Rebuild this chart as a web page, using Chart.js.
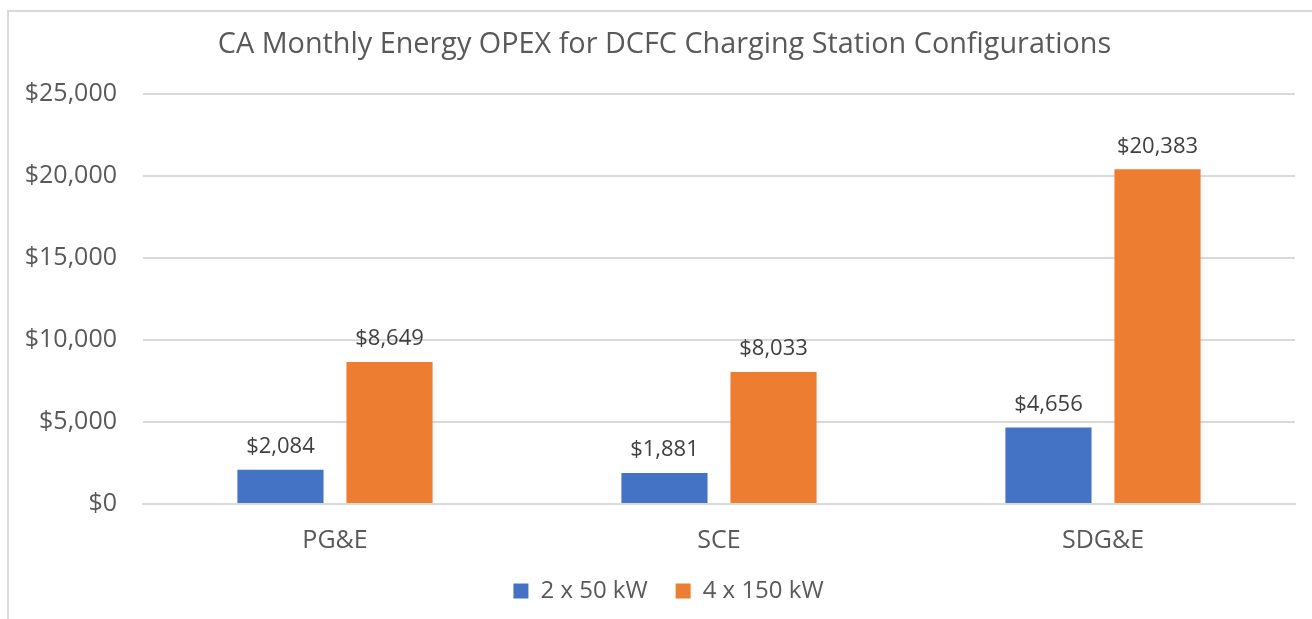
<!DOCTYPE html>
<html>
<head>
<meta charset="utf-8">
<script src="https://cdn.jsdelivr.net/npm/chart.js@4"></script>
<style>
  html, body { margin: 0; padding: 0; background: #ffffff; }
  #wrap { width: 1312px; height: 619px; position: relative; }
</style>
</head>
<body>
<div id="wrap"><canvas id="opexChart"></canvas></div>
<script>
// chart data
const utilities = ['PG&E', 'SCE', 'SDG&E'];
const seriesNames = ['2 x 50 kW', '4 x 150 kW'];
const opex2x50 = [2084, 1881, 4656];
const opex4x150 = [8649, 8033, 20383];
const yTicks = [0, 5000, 10000, 15000, 20000, 25000];

const FONT = "'Open Sans', 'DejaVu Sans', sans-serif";
const TEXT_GREY = '#595959';

function money(v) {
    return '$' + v.toLocaleString('en-US');
}

// light frame around the chart (cut off on the right / bottom like the screenshot)
const framePlugin = {
    id: 'frame',
    beforeDraw(chart) {
        const ctx = chart.ctx;
        ctx.save();
        ctx.strokeStyle = '#d9d9d9';
        ctx.lineWidth = 2;
        ctx.beginPath();
        ctx.moveTo(8, chart.height + 5);
        ctx.lineTo(8, 11);
        ctx.lineTo(chart.width + 5, 11);
        ctx.stroke();
        ctx.restore();
    }
};

// title and legend are centred on the whole frame in the original, not on the plot,
// and the legend sits higher than its padding would put it
const nudgeBoxes = {
    id: 'nudgeBoxes',
    afterLayout(chart) {
        if (chart.titleBlock) {
            chart.titleBlock.left += 17;
            chart.titleBlock.right += 17;
        }
        if (chart.legend) {
            chart.legend.left += 21;
            chart.legend.right += 21;
            chart.legend.top -= 27;
            chart.legend.bottom -= 27;
        }
    }
};

// value labels above each bar
const valueLabels = {
    id: 'valueLabels',
    afterDatasetsDraw(chart) {
        const ctx = chart.ctx;
        ctx.save();
        ctx.font = '22px ' + FONT;
        ctx.fillStyle = '#404040';
        ctx.textAlign = 'center';
        ctx.textBaseline = 'middle';
        chart.data.datasets.forEach((ds, i) => {
            chart.getDatasetMeta(i).data.forEach((bar, j) => {
                ctx.fillText(money(ds.data[j]), bar.x, bar.y - 23);
            });
        });
        ctx.restore();
    }
};

const ctx = document.getElementById('opexChart').getContext('2d');
new Chart(ctx, {
    type: 'bar',
    data: {
        labels: utilities,
        datasets: [{
            label: seriesNames[0],
            data: opex2x50,
            backgroundColor: '#4472C4'
        }, {
            label: seriesNames[1],
            data: opex4x150,
            backgroundColor: '#ED7D31'
        }]
    },
    options: {
        responsive: true,
        maintainAspectRatio: false,
        animation: false,
        datasets: {
            bar: {
                categoryPercentage: 0.568,
                barPercentage: 0.79
            }
        },
        layout: {
            padding: { top: 0, right: 17, bottom: -21, left: 0 }
        },
        plugins: {
            title: {
                display: true,
                text: 'CA Monthly Energy OPEX for DCFC Charging Station Configurations',
                color: TEXT_GREY,
                font: { family: FONT, size: 28.8, weight: 'normal' },
                padding: { top: 28, bottom: 31 }
            },
            legend: {
                position: 'bottom',
                labels: {
                    color: TEXT_GREY,
                    font: { family: FONT, size: 24 },
                    boxWidth: 15,
                    boxHeight: 15,
                    padding: 28
                }
            },
            tooltip: { enabled: false }
        },
        scales: {
            y: {
                min: 0,
                max: 25000,
                afterFit: function(scale) { scale.width = 143; },
                afterBuildTicks: function(scale) {
                    scale.ticks = yTicks.map(v => ({ value: v }));
                },
                ticks: {
                    color: TEXT_GREY,
                    font: { family: FONT, size: 25 },
                    padding: 26,
                    callback: function(v) { return money(v); }
                },
                grid: {
                    color: '#d9d9d9',
                    lineWidth: 2,
                    drawTicks: false
                },
                border: { display: false }
            },
            x: {
                ticks: {
                    color: TEXT_GREY,
                    font: { family: FONT, size: 25 },
                    padding: 22
                },
                grid: { display: false, drawTicks: false },
                border: { color: '#d9d9d9', width: 2 }
            }
        }
    },
    plugins: [framePlugin, nudgeBoxes, valueLabels]
});
</script>
</body>
</html>
